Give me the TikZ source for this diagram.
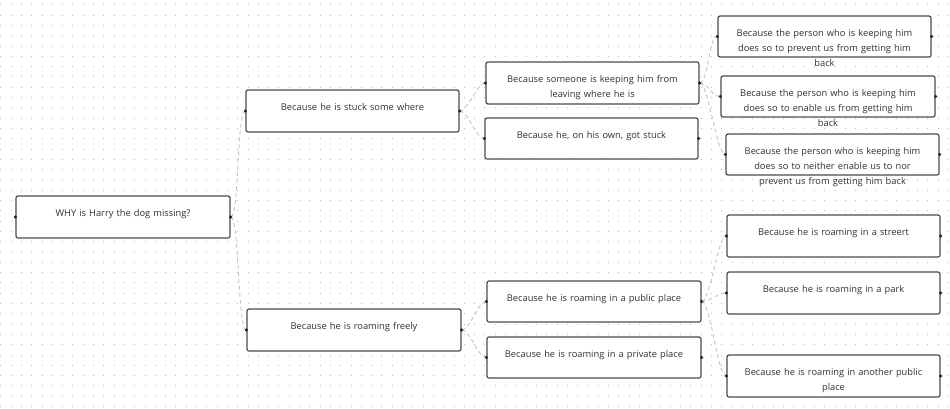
\documentclass[tikz,border=0pt]{standalone}
\usepackage{fontspec}
\setmainfont{Open Sans}
\usetikzlibrary{fit,calc}
\definecolor{boxline}{HTML}{4A4A55}
\definecolor{txtc}{HTML}{303038}
\definecolor{gridc}{HTML}{BBBBBF}
\definecolor{connc}{HTML}{C4C4C4}
\tikzset{
  boxst/.style={draw=boxline, line width=1.2pt, rounded corners=2pt, fill=white, inner sep=0pt},
  txt/.style={anchor=base, text width=212pt, align=center, inner sep=0pt, text=txtc,
    font=\fontsize{9.3}{15}\selectfont},
  conn/.style={draw=connc, line width=0.9pt, dash pattern=on 4pt off 3pt},
  dotst/.style={fill=black!85},
}
\newcommand\mybox[6]{%
  \path (#2,#3) coordinate (#1-nw) (#4,#5) coordinate (#1-se);
  \node[boxst, fit=(#1-nw)(#1-se)] (#1) {};
  \node[txt] (#1-t) at ($(#1.north)+(0,21.5)$) {#6};
}
\begin{document}
\begin{tikzpicture}[x=1pt,y=-1pt]
\useasboundingbox[fill=white] (0,0) rectangle (950,408);
% dotted grid
\foreach \i in {0,...,92}{
  \foreach \j in {0,...,39}{
    \fill[gridc] ({0.3+\i*10.3},{4.3+\j*10.3}) rectangle +(1,1);
  }
}
% boxes
\mybox{r}{16}{196}{230}{238}{WHY is Harry the dog missing?}
\mybox{a}{246}{90}{459}{132}{Because he is stuck some where}
\mybox{b}{247}{309}{461}{351}{Because he is roaming freely}
\mybox{a1}{486}{62}{699}{104}{Because someone is keeping him from\\leaving where he is}
\mybox{a2}{485}{118}{698}{159}{Because he, on his own, got stuck}
\mybox{a1a}{718}{16}{931}{57}{Because the person who is keeping him\\does so to prevent us from getting him\\back}
\mybox{a1b}{721}{76}{935}{117}{Because the person who is keeping him\\does so to enable us from getting him\\back}
\mybox{a1c}{726}{134}{939}{175}{Because the person who is keeping him\\does so to neither enable us to nor\\prevent us from getting him back}
\mybox{b1}{487}{281}{701}{322}{Because he is roaming in a public place}
\mybox{b2}{487}{337}{701}{378}{Because he is roaming in a private place}
\mybox{b1a}{727}{215}{940}{257}{Because he is roaming in a streert}
\mybox{b1b}{727}{272}{940}{314}{Because he is roaming in a park}
\mybox{b1c}{727}{355}{940}{397}{Because he is roaming in another public\\place}
% connectors
\foreach \p/\c in {r/a, r/b, a/a1, a/a2, a1/a1a, a1/a1b, a1/a1c, b/b1, b/b2, b1/b1a, b1/b1b, b1/b1c}{
  \draw[conn] (\p.east) .. controls +(9,0) and +(-9,0) .. (\c.west);
}
% connection dots
\foreach \n in {r,a,b,a1,a2,a1a,a1b,a1c,b1,b2,b1a,b1b,b1c}{
  \fill[dotst] (\n.west) circle (1.8) (\n.east) circle (1.8);
}
\end{tikzpicture}
\end{document}
